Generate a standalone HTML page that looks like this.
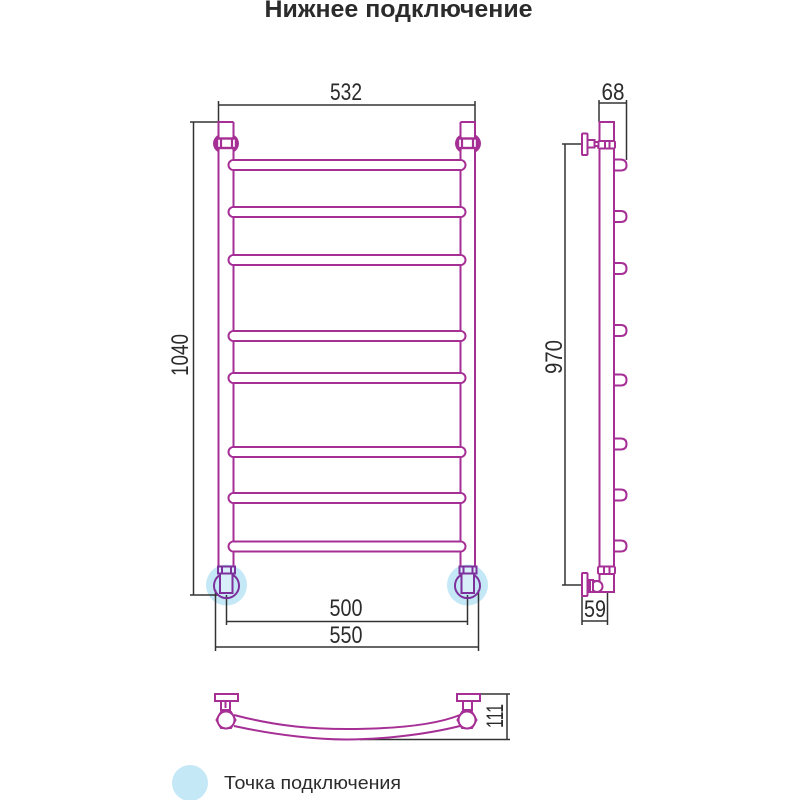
<!DOCTYPE html>
<html><head><meta charset="utf-8"><style>
html,body{margin:0;padding:0;background:#fff}
svg{display:block;filter:blur(0.35px)}
text{font-family:"Liberation Sans",sans-serif;fill:#2b2b2b}
.p{fill:none;stroke:#a62f95;stroke-width:2}
.w{fill:#fff;stroke:#a62f95;stroke-width:2}
.v{fill:#fff;stroke:#7d2f9c;stroke-width:2}
.k{fill:none;stroke:#333;stroke-width:1.5}
</style></head><body>
<svg width="800" height="800" viewBox="0 0 800 800" xmlns="http://www.w3.org/2000/svg">
<rect width="800" height="800" fill="#fff"/>
<text x="398.500" y="17" text-anchor="middle" font-size="24" font-weight="bold" textLength="268" lengthAdjust="spacingAndGlyphs" fill="#222">Нижнее подключение</text>

<circle cx="226.500" cy="585" r="20.500" fill="#c5e8f7"/>
<circle cx="467.500" cy="585" r="20.500" fill="#c5e8f7"/>
<circle cx="190" cy="783" r="18" fill="#c5e8f7"/>

<g class="k">
<path d="M218.500 101V122M218.500 105H475M475 101V122"/>
<path d="M190 122H218.500M193.500 122V595M190 595H219"/>
<path d="M215.500 590V651M215.500 647H479M478.500 590V651"/>
<path d="M226.500 595V625M226.500 621.500H468M467.500 595V625"/>
<path d="M599 100V122M599 103H627M626.500 100V160"/>
<path d="M562 144H582M565 144V585M562 585H582"/>
<path d="M582 596V625M582 621H608M607.500 592V625"/>
<path d="M480 694H510M360 739.500H510M507 694V739.500"/>
</g>

<!-- front view tubes -->
<g class="p">
<path d="M233.500 122H218.500V567M233.500 122V567"/>
<path d="M460.500 122H475V567M460.500 122V567"/>
</g>
<g class="w">
<rect x="228.500" y="160" width="237" height="10" rx="5"/>
<rect x="228.500" y="207" width="237" height="10" rx="5"/>
<rect x="228.500" y="255" width="237" height="10" rx="5"/>
<rect x="228.500" y="331" width="237" height="10" rx="5"/>
<rect x="228.500" y="373" width="237" height="10" rx="5"/>
<rect x="228.500" y="447" width="237" height="10" rx="5"/>
<rect x="228.500" y="493" width="237" height="10" rx="5"/>
<rect x="228.500" y="541.500" width="237" height="10" rx="5"/>
</g>
<!-- cover inner tube lines where bars cross -->
<g fill="#fff">
<rect x="232" y="161" width="4" height="8"/><rect x="232" y="208" width="4" height="8"/><rect x="232" y="256" width="4" height="8"/><rect x="232" y="332" width="4" height="8"/><rect x="232" y="374" width="4" height="8"/><rect x="232" y="448" width="4" height="8"/><rect x="232" y="494" width="4" height="8"/><rect x="232" y="542.500" width="4" height="8"/>
<rect x="458" y="161" width="4" height="8"/><rect x="458" y="208" width="4" height="8"/><rect x="458" y="256" width="4" height="8"/><rect x="458" y="332" width="4" height="8"/><rect x="458" y="374" width="4" height="8"/><rect x="458" y="448" width="4" height="8"/><rect x="458" y="494" width="4" height="8"/><rect x="458" y="542.500" width="4" height="8"/>
</g>

<!-- top nuts -->
<g>
<path d="M219 136C213 140 213 147 219 151M233 136C239 140 239 147 233 151" fill="none" stroke="#a62f95" stroke-width="3"/>
<rect x="217" y="138.500" width="19" height="9.500" fill="#fff" stroke="#a62f95" stroke-width="2.400"/>
<path d="M221 138V148M232 138V148" stroke="#a62f95" stroke-width="2.200" fill="none"/>
<path d="M461 136C455 140 455 147 461 151M475 136C481 140 481 147 475 151" fill="none" stroke="#a62f95" stroke-width="3"/>
<rect x="458" y="138.500" width="19" height="9.500" fill="#fff" stroke="#a62f95" stroke-width="2.400"/>
<path d="M462 138V148M473 138V148" stroke="#a62f95" stroke-width="2.200" fill="none"/>
</g>

<!-- bottom nuts -->
<g>
<path d="M220 575A12.500 12.500 0 1 0 233 575" class="v" style="fill:none"/>
<rect x="220" y="573" width="12.500" height="20" class="v" style="fill:#d8eff9"/>
<rect x="218" y="566.500" width="17" height="7" class="v" style="fill:#d8eff9"/>
<path d="M222 566.500V573.500M231 566.500V573.500" class="v"/>
<path d="M461 575A12.500 12.500 0 1 0 474 575" class="v" style="fill:none"/>
<rect x="461.500" y="573" width="12.500" height="20" class="v" style="fill:#d8eff9"/>
<rect x="459.500" y="566.500" width="17" height="7" class="v" style="fill:#d8eff9"/>
<path d="M463.500 566.500V573.500M472.500 566.500V573.500" class="v"/>
</g>

<!-- side view -->
<g class="p">
<path d="M599.500 567V122H614V592H602"/>
<path d="M614 159.500H620.500Q626.500 159.500 626.500 165.500Q626.500 170.500 620.500 170.500H614"/>
<path d="M614 211H620.500Q626.500 211 626.500 216.500Q626.500 222 620.500 222H614"/>
<path d="M614 263H620.500Q626.500 263 626.500 268.500Q626.500 274 620.500 274H614"/>
<path d="M614 325H620.500Q626.500 325 626.500 330.500Q626.500 336 620.500 336H614"/>
<path d="M614 374.500H620.500Q626.500 374.500 626.500 380Q626.500 385.500 620.500 385.500H614"/>
<path d="M614 438.500H620.500Q626.500 438.500 626.500 444Q626.500 449.500 620.500 449.500H614"/>
<path d="M614 489.500H620.500Q626.500 489.500 626.500 495Q626.500 500.500 620.500 500.500H614"/>
<path d="M614 540.500H620.500Q626.500 540.500 626.500 546Q626.500 551.500 620.500 551.500H614"/>
</g>
<g class="w">
<rect x="598" y="141" width="17" height="7.500" rx="1.500"/>
<rect x="582" y="133.500" width="5.500" height="21.500" rx="1"/>
<rect x="587.500" y="140" width="7" height="7.500"/>
<rect x="594.500" y="142" width="4" height="4"/>
<rect x="598" y="566.500" width="17" height="7.500" rx="1.500"/>
<path d="M599.500 574V581H594V592H603"/>
<circle cx="597" cy="586.500" r="5.500"/>
<rect x="588" y="580" width="5" height="12"/>
<rect x="582" y="573" width="5.500" height="23" rx="1"/>
</g>
<path d="M605 141V148M609.500 141V148M604 566.500V574M609.500 566.500V574M590 580V592" class="p"/>

<!-- bottom view -->
<g class="p">
<path d="M234 715C280 727 315 729 347 729S430 727 460 715"/>
<path d="M234 726C280 736 320 739.500 347 739.500S420 736 460 726"/>
</g>
<g class="w">
<rect x="215" y="694" width="23" height="7"/>
<rect x="221" y="701" width="9" height="9"/>
<rect x="457" y="694" width="23" height="7"/>
<rect x="463" y="701" width="9" height="9"/>
<path d="M221 712H231L235.500 720L231 728H221L216.500 720Z"/>
<path d="M462 712H472L476.500 720L472 728H462L457.500 720Z"/>
</g>
<path d="M225.500 701V708M463 701V708" class="p"/>
<circle cx="226" cy="720" r="8.500" class="w"/>
<circle cx="467" cy="720" r="8.500" class="w"/>

<!-- labels -->
<g font-size="24">
<text x="346" y="100" text-anchor="middle" textLength="32" lengthAdjust="spacingAndGlyphs">532</text>
<text x="346" y="616" text-anchor="middle" textLength="33" lengthAdjust="spacingAndGlyphs">500</text>
<text x="346" y="643" text-anchor="middle" textLength="33" lengthAdjust="spacingAndGlyphs">550</text>
<text x="613" y="100" text-anchor="middle" textLength="23" lengthAdjust="spacingAndGlyphs">68</text>
<text x="595" y="617" text-anchor="middle" textLength="22" lengthAdjust="spacingAndGlyphs">59</text>
<text transform="translate(188 355) rotate(-90)" text-anchor="middle" textLength="42" lengthAdjust="spacingAndGlyphs">1040</text>
<text transform="translate(562 357) rotate(-90)" text-anchor="middle" textLength="34" lengthAdjust="spacingAndGlyphs">970</text>
<text transform="translate(503 716) rotate(-90)" text-anchor="middle" textLength="24" lengthAdjust="spacingAndGlyphs">111</text>
</g>
<text x="224" y="789" font-size="18" textLength="177" lengthAdjust="spacingAndGlyphs">Точка подключения</text>
</svg>
</body></html>
